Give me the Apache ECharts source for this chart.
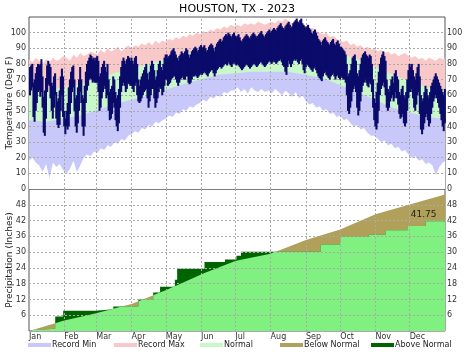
<!DOCTYPE html>
<html>
<head>
<meta charset="utf-8">
<script src="https://cdn.jsdelivr.net/npm/echarts@6/dist/echarts.min.js"></script>
<style>
  html, body { margin: 0; padding: 0; background: #fff; }
  #chart { width: 474px; height: 354px; }
</style>
</head>
<body>
<div id="chart"></div>
<script>
const monthNames = ['Jan', 'Feb', 'Mar', 'Apr', 'May', 'Jun', 'Jul', 'Aug', 'Sep', 'Oct', 'Nov', 'Dec']
const monthStarts = [0, 31, 59, 90, 120, 151, 181, 212, 243, 273, 304, 334]
const tempTicks = [10, 20, 30, 40, 50, 60, 70, 80, 90, 100]
const precipTicks = [6, 12, 18, 24, 30, 36, 42, 48]

// daily observed high / low (deg F), Jan 1 .. Dec 31
const dailyHigh = [
  78, 79, 80, 68, 70, 74, 78, 80, 79, 80, 83, 72, 59, 63, 71, 79, 82, 80, 78, 68, 66, 72, 74, 62, 56, 58, 63, 72, 77, 72, 50,
  45, 50, 55, 65, 70, 75, 78, 79, 70, 58, 60, 65, 70, 78, 70, 60, 58, 66, 75, 80, 82, 84, 86, 85, 83, 84, 82, 84,
  85, 82, 72, 74, 78, 80, 82, 78, 75, 80, 70, 62, 64, 66, 72, 70, 62, 58, 60, 64, 72, 78, 82, 84, 82, 80, 83, 85, 84, 82, 84,
  82, 80, 84, 85, 80, 70, 66, 70, 72, 74, 76, 78, 80, 74, 70, 75, 79, 82, 80, 76, 70, 72, 76, 80, 82, 78, 76, 80, 84, 86,
  86, 84, 85, 86, 88, 89, 90, 88, 86, 84, 82, 85, 86, 88, 87, 86, 88, 90, 89, 86, 84, 86, 88, 89, 90, 91, 90, 88, 89, 91, 92,
  90, 91, 92, 90, 88, 89, 91, 92, 93, 92, 90, 88, 91, 93, 94, 95, 96, 94, 95, 97, 98, 99, 98, 100, 99, 98, 97, 99, 100, 98,
  97, 98, 99, 97, 95, 94, 96, 97, 98, 99, 98, 97, 96, 98, 99, 100, 99, 98, 97, 98, 99, 100, 101, 99, 98, 97, 99, 100, 101, 102, 100,
  101, 102, 103, 102, 101, 103, 104, 105, 106, 104, 103, 102, 104, 105, 106, 107, 105, 103, 104, 106, 107, 108, 109, 107, 106, 108, 109, 106, 105, 104, 103,
  104, 105, 103, 102, 100, 99, 101, 102, 100, 98, 96, 95, 94, 92, 95, 96, 97, 95, 94, 93, 92, 94, 95, 96, 93, 92, 94, 95, 93, 91,
  91, 90, 89, 88, 86, 80, 72, 74, 76, 80, 84, 85, 86, 82, 74, 72, 76, 80, 84, 86, 87, 88, 86, 85, 84, 86, 85, 80, 70, 58, 55,
  62, 68, 75, 80, 84, 86, 88, 85, 82, 70, 64, 62, 66, 70, 72, 68, 74, 76, 72, 70, 62, 60, 64, 66, 60, 58, 62, 70, 76, 80,
  78, 80, 76, 72, 70, 74, 78, 80, 72, 60, 56, 58, 62, 66, 64, 60, 58, 62, 66, 68, 70, 72, 74, 72, 70, 68, 66, 64, 62, 60, 64
]
const dailyLow = [
  60, 63, 65, 46, 43, 50, 55, 62, 63, 59, 62, 52, 36, 34, 45, 62, 67, 66, 58, 50, 45, 52, 60, 45, 41, 39, 41, 50, 60, 46, 40,
  35, 40, 38, 40, 48, 55, 62, 65, 50, 40, 36, 42, 50, 62, 55, 40, 34, 40, 55, 63, 66, 70, 71, 70, 68, 69, 68, 68,
  68, 62, 50, 52, 58, 62, 66, 64, 58, 60, 50, 44, 45, 48, 55, 52, 44, 40, 37, 42, 52, 62, 66, 68, 66, 62, 64, 68, 67, 66, 66,
  64, 62, 66, 68, 60, 56, 55, 56, 58, 60, 62, 63, 64, 58, 52, 56, 60, 64, 64, 58, 52, 55, 58, 62, 65, 64, 60, 62, 66, 70,
  70, 66, 67, 68, 70, 71, 72, 72, 70, 68, 66, 68, 70, 71, 72, 70, 70, 72, 72, 68, 67, 68, 70, 72, 72, 73, 72, 71, 72, 73, 74,
  73, 74, 75, 74, 73, 72, 74, 75, 76, 76, 74, 72, 74, 76, 77, 78, 78, 77, 78, 79, 80, 80, 79, 81, 80, 79, 78, 80, 81, 80,
  79, 80, 79, 78, 77, 76, 77, 78, 79, 80, 79, 78, 77, 78, 79, 80, 80, 79, 78, 79, 80, 81, 81, 80, 79, 78, 79, 80, 81, 82, 81,
  80, 81, 82, 81, 80, 81, 82, 82, 83, 81, 79, 78, 75, 73, 78, 82, 80, 78, 80, 82, 83, 82, 83, 81, 80, 82, 83, 80, 76, 74, 78,
  80, 79, 78, 77, 76, 75, 77, 78, 76, 74, 72, 71, 70, 69, 72, 74, 75, 73, 72, 71, 70, 72, 73, 74, 72, 70, 72, 73, 71, 70,
  72, 71, 70, 70, 68, 60, 50, 48, 52, 56, 62, 64, 66, 62, 52, 47, 50, 56, 62, 66, 68, 70, 68, 66, 65, 68, 67, 62, 52, 44, 40,
  38, 42, 50, 60, 64, 66, 68, 65, 60, 52, 50, 52, 56, 58, 60, 56, 58, 62, 58, 54, 48, 45, 46, 48, 42, 40, 42, 50, 58, 62,
  62, 64, 58, 52, 50, 54, 60, 62, 48, 38, 35, 38, 42, 46, 48, 44, 40, 42, 48, 52, 56, 58, 60, 58, 55, 52, 48, 44, 40, 37, 42
]

// record extremes, one value every 3rd day from Jan 1
const recordStep = 3
const recordHigh = [
  83, 81, 84, 82, 80, 83, 81, 84, 82, 83, 85,
  84, 82, 86, 84, 87, 85, 86, 88, 87,
  86, 89, 87, 90, 88, 89, 91, 88, 90, 92,
  90, 92, 91, 93, 92, 94, 92, 95, 93, 95,
  94, 96, 95, 97, 96, 98, 97, 99, 98, 100,
  99, 101, 100, 102, 101, 103, 102, 104, 103, 105,
  104, 105, 104, 106, 105, 106, 105, 107, 106, 105,
  106, 107, 106, 108, 107, 109, 107, 106, 108, 107, 105,
  104, 102, 103, 101, 100, 99, 100, 97, 98, 96,
  95, 94, 95, 92, 93, 91, 92, 90, 91, 89,
  90, 88, 89, 87, 88, 86, 87, 85, 86, 87,
  85, 84, 85, 83, 84, 82, 84, 83, 82, 84, 83, 84
]
const recordLow = [
  18, 20, 17, 15, 11, 16, 7, 17, 14, 16, 12,
  10, 13, 18, 11, 15, 20, 22, 21, 24,
  23, 26, 25, 28, 27, 30, 29, 32, 31, 34,
  35, 37, 36, 39, 38, 41, 40, 43, 42, 44,
  45, 47, 46, 49, 48, 51, 50, 53, 52, 54,
  55, 57, 56, 59, 58, 60, 59, 62, 61, 63,
  63, 65, 62, 64, 61, 65, 63, 62, 64, 62,
  63, 61, 64, 62, 60, 63, 61, 59, 62, 58, 60,
  56, 54, 55, 52, 53, 50, 51, 48, 49, 46,
  47, 44, 45, 42, 40, 41, 38, 39, 36, 34,
  34, 32, 30, 31, 28, 29, 26, 27, 24, 25,
  22, 20, 21, 18, 19, 16, 17, 15, 9, 14, 17, 18
]

// normal high / low (deg F)
const normalDays = [0, 15, 45, 74, 105, 135, 166, 196, 227, 258, 288, 319, 349, 365]
const normalHigh = [63, 63, 67, 74, 80, 86, 91, 94, 95, 91, 83, 73, 65, 63]
const normalLow = [44, 43, 47, 54, 60, 67, 73, 75, 75, 71, 62, 52, 46, 45]

// cumulative precipitation (inches)
const precipNormalDays = [0, 31, 59, 90, 120, 151, 181, 212, 243, 273, 304, 334, 365]
const precipNormal = [0, 4.0, 6.8, 10.3, 15.5, 21.5, 26.6, 29.4, 34.6, 38.6, 44.4, 48.1, 51.9]
const precipDays = [0, 2, 9, 23, 30, 58, 74, 96, 109, 115, 128, 130, 154, 172, 182, 186, 256, 274, 298, 313, 332, 348, 365]
const precipTotal = [0, 0.5, 0.9, 5.5, 7.7, 8.3, 9.3, 12.0, 14.6, 16.8, 19.5, 23.7, 26.2, 27.2, 28.6, 30.1, 32.9, 35.8, 36.6, 38.3, 39.9, 41.75, 41.75]

const FONT = 'DejaVu Sans'
const C = {
  recMax: '#f9c8c8',
  normal: '#c8f8c8',
  recMin: '#c8c8fa',
  navy: '#0b0b6b',
  precip: '#80f080',
  below: '#b0a05a',
  above: '#006400',
  grid: '#aaaaaa'
}

function normalPrecipAt(t) {
  for (let i = 1; i < precipNormalDays.length; i++) {
    if (t <= precipNormalDays[i]) {
      const a = precipNormalDays[i - 1]
      const b = precipNormalDays[i]
      return precipNormal[i - 1] + (precipNormal[i] - precipNormal[i - 1]) * (t - a) / (b - a)
    }
  }
  return precipNormal[precipNormal.length - 1]
}

// outline of the light green fill: the lower of observed and normal
function lowerEnvelope() {
  const xs = [...new Set([...precipDays, ...precipNormalDays])].sort((a, b) => a - b)
  const pts = []
  let obs = 0
  for (let i = 0; i < xs.length; i++) {
    const x = xs[i]
    const n = normalPrecipAt(x)
    const j = precipDays.indexOf(x)
    if (j >= 0) {
      pts.push([x, Math.min(obs, n)])
      obs = precipTotal[j]
    }
    pts.push([x, Math.min(obs, n)])
    if (i < xs.length - 1) {
      const x2 = xs[i + 1]
      const n2 = normalPrecipAt(x2)
      if ((n - obs) * (n2 - obs) < 0) {
        pts.push([x + (obs - n) / (n2 - n) * (x2 - x), obs])
      }
    }
  }
  return pts
}

const pairs = (days, vals) => vals.map((v, i) => [days[i], v])
const recordPairs = vals => vals.map((v, i) => [i * recordStep, v])

function area(name, data, color, z, extra) {
  return Object.assign({
    name,
    type: 'line',
    data,
    color,
    z,
    showSymbol: false,
    symbol: 'none',
    silent: true,
    lineStyle: { width: 0 },
    areaStyle: { color, opacity: 1 }
  }, extra || {})
}

function gridLines(xIdx, yIdx, ticks, z) {
  return {
    type: 'line',
    xAxisIndex: xIdx,
    yAxisIndex: yIdx,
    data: [[0, 0]],
    z,
    symbol: 'none',
    silent: true,
    lineStyle: { opacity: 0 },
    markLine: {
      silent: true,
      symbol: ['none', 'none'],
      label: { show: false },
      lineStyle: { color: C.grid, type: [2, 2], width: 1 },
      emphasis: { disabled: true },
      data: monthStarts.slice(1).map(d => ({ xAxis: d })).concat(ticks.map(v => ({ yAxis: v })))
    }
  }
}

const yLabel = (max, show) => ({
  fontSize: 8,
  color: '#333',
  fontFamily: FONT,
  formatter: v => (v > max || (!show && v === 0)) ? '' : String(v)
})

const yName = text => ({
  name: text,
  nameLocation: 'middle',
  nameGap: 15,
  nameMoveOverlap: false,
  nameTextStyle: { fontSize: 9, color: '#222', fontFamily: FONT }
})

const chart = echarts.init(document.getElementById('chart'))

const lastTotal = precipTotal[precipTotal.length - 1]

const legendNames = ['Record Min', 'Record Max', 'Normal', 'Below Normal', 'Above Normal']
const legendLeft = [28, 114, 200, 280, 371]

chart.setOption({
  animation: false,
  backgroundColor: '#fff',
  title: {
    text: 'HOUSTON, TX - 2023',
    left: 'center',
    top: 4,
    padding: 0,
    textStyle: { fontSize: 11, fontWeight: 'normal', color: '#000', fontFamily: FONT }
  },
  legend: legendNames.map((name, i) => ({
    data: [name],
    left: legendLeft[i],
    top: 341,
    padding: 0,
    icon: 'rect',
    itemWidth: 23,
    itemHeight: 4,
    selectedMode: false,
    textStyle: { fontSize: 8, color: '#222', fontFamily: FONT, padding: [0, 0, 0, -4] }
  })),
  grid: [
    { left: 29, right: 29, top: 17, height: 172, show: true, borderColor: '#555', borderWidth: 1, outerBoundsMode: 'none', containLabel: false },
    { left: 29, right: 29, top: 189, height: 142, show: true, borderColor: '#555', borderWidth: 1, outerBoundsMode: 'none', containLabel: false }
  ],
  xAxis: [
    { gridIndex: 0, type: 'value', min: 0, max: 365, show: false },
    {
      gridIndex: 1, type: 'value', min: 0, max: 365,
      axisLine: { show: false }, axisTick: { show: false }, splitLine: { show: false },
      axisLabel: {
        customValues: monthStarts,
        formatter: v => monthNames[monthStarts.indexOf(v)],
        align: 'left',
        margin: 2,
        fontSize: 8,
        color: '#333',
        fontFamily: FONT
      }
    }
  ],
  yAxis: [
    Object.assign({
      gridIndex: 0, type: 'value', min: 0, max: 110, interval: 10, position: 'left',
      axisLine: { show: false }, axisTick: { show: false }, splitLine: { show: false },
      axisLabel: Object.assign(yLabel(100, true), { margin: 3 })
    }, yName('Temperature (Deg F)')),
    {
      gridIndex: 0, type: 'value', min: 0, max: 110, interval: 10, position: 'right',
      axisLine: { show: false }, axisTick: { show: false }, splitLine: { show: false },
      axisLabel: Object.assign(yLabel(100, true), { margin: 2 })
    },
    Object.assign({
      gridIndex: 1, type: 'value', min: 0, max: 54, interval: 6, position: 'left',
      axisLine: { show: false }, axisTick: { show: false }, splitLine: { show: false },
      axisLabel: Object.assign(yLabel(48, false), { margin: 3 })
    }, yName('Precipitation (Inches)')),
    {
      gridIndex: 1, type: 'value', min: 0, max: 54, interval: 6, position: 'right',
      axisLine: { show: false }, axisTick: { show: false }, splitLine: { show: false },
      axisLabel: Object.assign(yLabel(48, false), { margin: 2 })
    }
  ],
  series: [
    // temperature bands, painted bottom-up
    area('Record Max', recordPairs(recordHigh), C.recMax, 1),
    area('Normal', pairs(normalDays, normalHigh), C.normal, 2),
    area('Record Min', pairs(normalDays, normalLow), C.recMin, 3),
    area('below record', recordPairs(recordLow), '#ffffff', 4),
    gridLines(0, 0, tempTicks, 5),
    {
      name: 'Observed',
      type: 'custom',
      xAxisIndex: 0,
      yAxisIndex: 0,
      z: 6,
      silent: true,
      data: dailyHigh.map((h, i) => [i, dailyLow[i], h]),
      encode: { x: 0, y: [1, 2] },
      renderItem(params, api) {
        const lo = api.coord([api.value(0), api.value(1)])
        const hi = api.coord([api.value(0) + 1, api.value(2)])
        return {
          type: 'rect',
          shape: { x: lo[0], y: hi[1], width: hi[0] - lo[0] + 0.9, height: lo[1] - hi[1] },
          style: { fill: C.navy }
        }
      }
    },
    // precipitation
    area('Below Normal', pairs(precipNormalDays, precipNormal), C.below, 1, { xAxisIndex: 1, yAxisIndex: 2 }),
    area('Above Normal', pairs(precipDays, precipTotal), C.above, 2, { xAxisIndex: 1, yAxisIndex: 2, step: 'end' }),
    area('Precip', lowerEnvelope(), C.precip, 3, { xAxisIndex: 1, yAxisIndex: 2 }),
    Object.assign(gridLines(1, 2, precipTicks, 5), {
      markPoint: {
        silent: true,
        symbol: 'rect',
        symbolSize: 1,
        itemStyle: { color: 'rgba(0,0,0,0)' },
        data: [{ coord: [precipDays[precipDays.length - 2], lastTotal], value: lastTotal }],
        label: {
          show: true,
          position: 'inside',
          offset: [-2, -7],
          formatter: String(lastTotal),
          fontSize: 9,
          color: '#222',
          fontFamily: FONT
        }
      }
    })
  ]
})
</script>
</body>
</html>
